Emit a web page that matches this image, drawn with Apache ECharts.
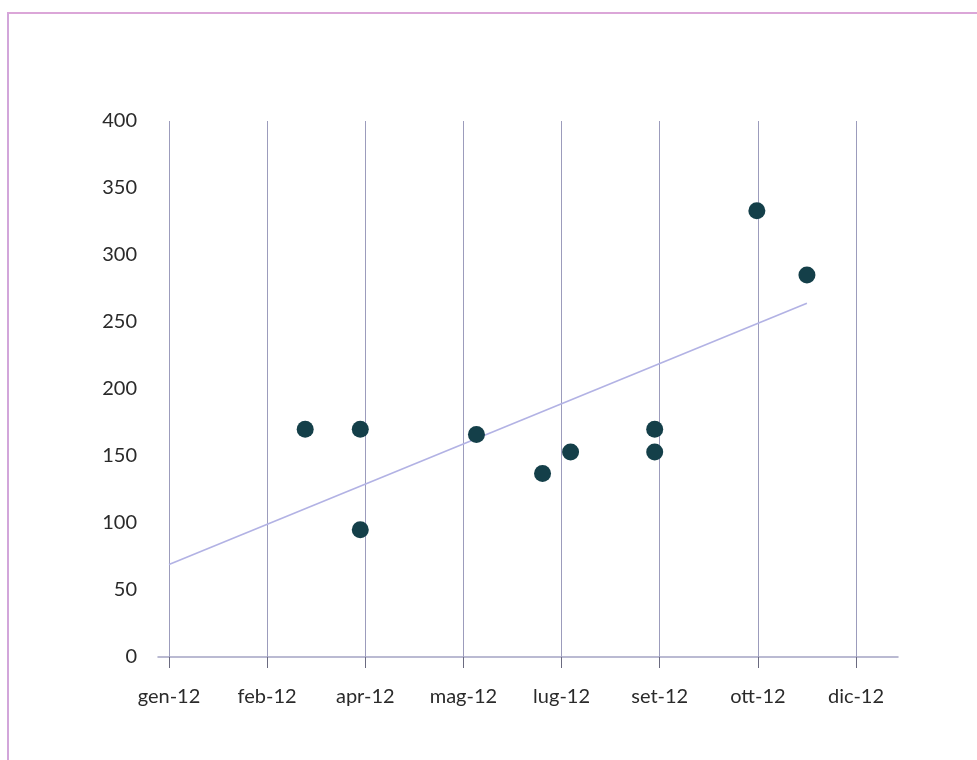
<!DOCTYPE html>
<html>
<head>
<meta charset="utf-8">
<script src="https://cdn.jsdelivr.net/npm/echarts@6/dist/echarts.min.js"></script>
<style>
  html, body { margin: 0; padding: 0; background: #fff; }
  #wrap { position: relative; width: 977px; height: 760px; overflow: hidden; }
  #frame { position: absolute; left: 7px; top: 12px; width: 990px; height: 770px;
           border-top: 2px solid #dba6d8; border-left: 2px solid #d2a6da; box-sizing: border-box; }
  #chart { position: absolute; left: 0; top: 0; width: 977px; height: 760px; }
</style>
</head>
<body>
<div id="wrap">
  <div id="frame"></div>
  <div id="chart"></div>
</div>
<script>
// Days counted from 1 Jan 2012
const tickLabels = ['gen-12', 'feb-12', 'apr-12', 'mag-12', 'lug-12', 'set-12', 'ott-12', 'dic-12'];
const tickStepDays = 49;
const pointDays = [68, 95.5, 95.5, 153.5, 186.5, 200.5, 242.5, 242.5, 293.5, 318.5];
const pointValues = [170, 170, 95, 166, 137, 153, 170, 153, 333, 285];
const trendDays = [0, 318.5];
const trendValues = [69, 264];

const FONT = 'Lato, "Open Sans", sans-serif';
const xMax = tickStepDays * (tickLabels.length - 1);

const chart = echarts.init(document.getElementById('chart'), null, { renderer: 'canvas' });
chart.setOption({
  backgroundColor: 'transparent',
  animation: false,
  grid: [
    { left: 169, right: 977 - 856, top: 121, bottom: 760 - 657, containLabel: false },
    { left: 158, right: 977 - 898, top: 121, bottom: 760 - 657, containLabel: false }
  ],
  xAxis: [
    {
      type: 'value', gridIndex: 0, min: 0, max: xMax, interval: tickStepDays,
      axisLine: { show: false },
      axisTick: { show: true, length: 11, lineStyle: { color: '#6a6a80', width: 1 } },
      splitLine: { show: true, lineStyle: { color: '#9c9cbc', width: 1 } },
      axisLabel: {
        margin: 30, color: '#2a2a2a', fontFamily: FONT, fontSize: 20,
        formatter: v => tickLabels[Math.round(v / tickStepDays)] || ''
      }
    },
    {
      type: 'value', gridIndex: 1, min: 0, max: 1,
      axisLine: { show: true, lineStyle: { color: '#a4a4c4', width: 1.5 } },
      axisTick: { show: false }, axisLabel: { show: false }, splitLine: { show: false }
    }
  ],
  yAxis: [
    {
      type: 'value', gridIndex: 0, min: 0, max: 400, interval: 50,
      axisLine: { show: false }, axisTick: { show: false },
      splitLine: { show: false },
      axisLabel: { margin: 32, color: '#2a2a2a', fontFamily: FONT, fontSize: 20 }
    },
    {
      type: 'value', gridIndex: 1, min: 0, max: 1, show: false
    }
  ],
  series: [
    {
      type: 'line', xAxisIndex: 0, yAxisIndex: 0,
      data: trendDays.map((d, i) => [d, trendValues[i]]),
      symbol: 'none', silent: true, z: 2,
      lineStyle: { color: '#b2b2e4', width: 1.6 }
    },
    {
      type: 'scatter', xAxisIndex: 0, yAxisIndex: 0,
      data: pointDays.map((d, i) => [d, pointValues[i]]),
      symbol: 'circle', symbolSize: 17, z: 3,
      itemStyle: { color: '#143f49', opacity: 1 }
    }
  ]
});
</script>
</body>
</html>
